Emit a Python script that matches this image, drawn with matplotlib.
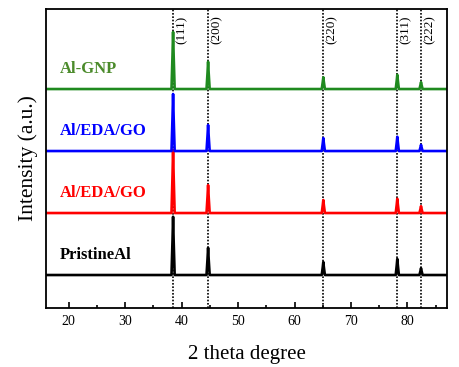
import numpy as np
import matplotlib
matplotlib.use("Agg")
import matplotlib.pyplot as plt

# peak positions (2 theta) and Miller indices
peak_pos = [38.5, 44.7, 65.1, 78.2, 82.4]
peak_hkl = ["(111)", "(200)", "(220)", "(311)", "(222)"]

# relative peak heights per sample
samples = ["PristineAl", "Al/EDA/GO", "Al/EDA/GO", "Al-GNP"]
colors = ["black", "red", "blue", "#1f8a1f"]
text_colors = ["black", "red", "blue", "#4b8b2b"]
heights_pristine = [0.94, 0.44, 0.21, 0.26, 0.11]
heights_red = [1.02, 0.45, 0.21, 0.23, 0.11]
heights_blue = [0.92, 0.42, 0.21, 0.23, 0.10]
heights_gnp = [0.92, 0.44, 0.19, 0.23, 0.11]
all_heights = [heights_pristine, heights_red, heights_blue, heights_gnp]

x_start, x_end = 16, 87
half_width = 0.28

plt.rcParams["font.family"] = "Liberation Serif"

fig = plt.figure(figsize=(4.59, 3.67), dpi=100)
ax = fig.add_axes([46 / 459, (367 - 308) / 367, 401 / 459, 299 / 367])

for k, (name, hts) in enumerate(zip(samples, all_heights)):
    off = 0.532 + k
    xs = [x_start]
    ys = [off]
    for p, h in zip(peak_pos, hts):
        xs += [p - half_width, p - 0.1, p, p + 0.1, p + half_width]
        ys += [off, off + h * 0.6, off + h, off + h * 0.6, off]
    xs.append(x_end)
    ys.append(off)
    ax.plot(xs, ys, color=colors[k], lw=1.9)
    ax.text(18.4, off + 0.32, name, color=text_colors[k], fontsize=12,
            fontweight="bold", ha="left", va="center")

for p, lab in zip(peak_pos, peak_hkl):
    ax.axvline(p, color="black", ls=(0, (1, 1)), lw=1.2, zorder=0)
    ax.text(p + 0.45, 4.72, lab, rotation=90, fontsize=9.5, ha="left", va="top")

ax.set_xlim(x_start, x_end)
ax.set_ylim(0, 4.823)
ax.set_xticks([20, 30, 40, 50, 60, 70, 80])
ax.set_xticks(np.arange(25, 90, 10), minor=True)
ax.set_yticks([])
ax.tick_params(axis="x", direction="in", labelsize=10, length=4, width=1.2, pad=5)
ax.tick_params(axis="x", which="minor", direction="in", length=2.5, width=1.2)
for s in ax.spines.values():
    s.set_linewidth(1.3)
ax.set_xlabel("2 theta degree", fontsize=15, labelpad=12)
ax.set_ylabel("Intensity (a.u.)", fontsize=15.5, labelpad=6)

fig.savefig("out.png", dpi=100)
